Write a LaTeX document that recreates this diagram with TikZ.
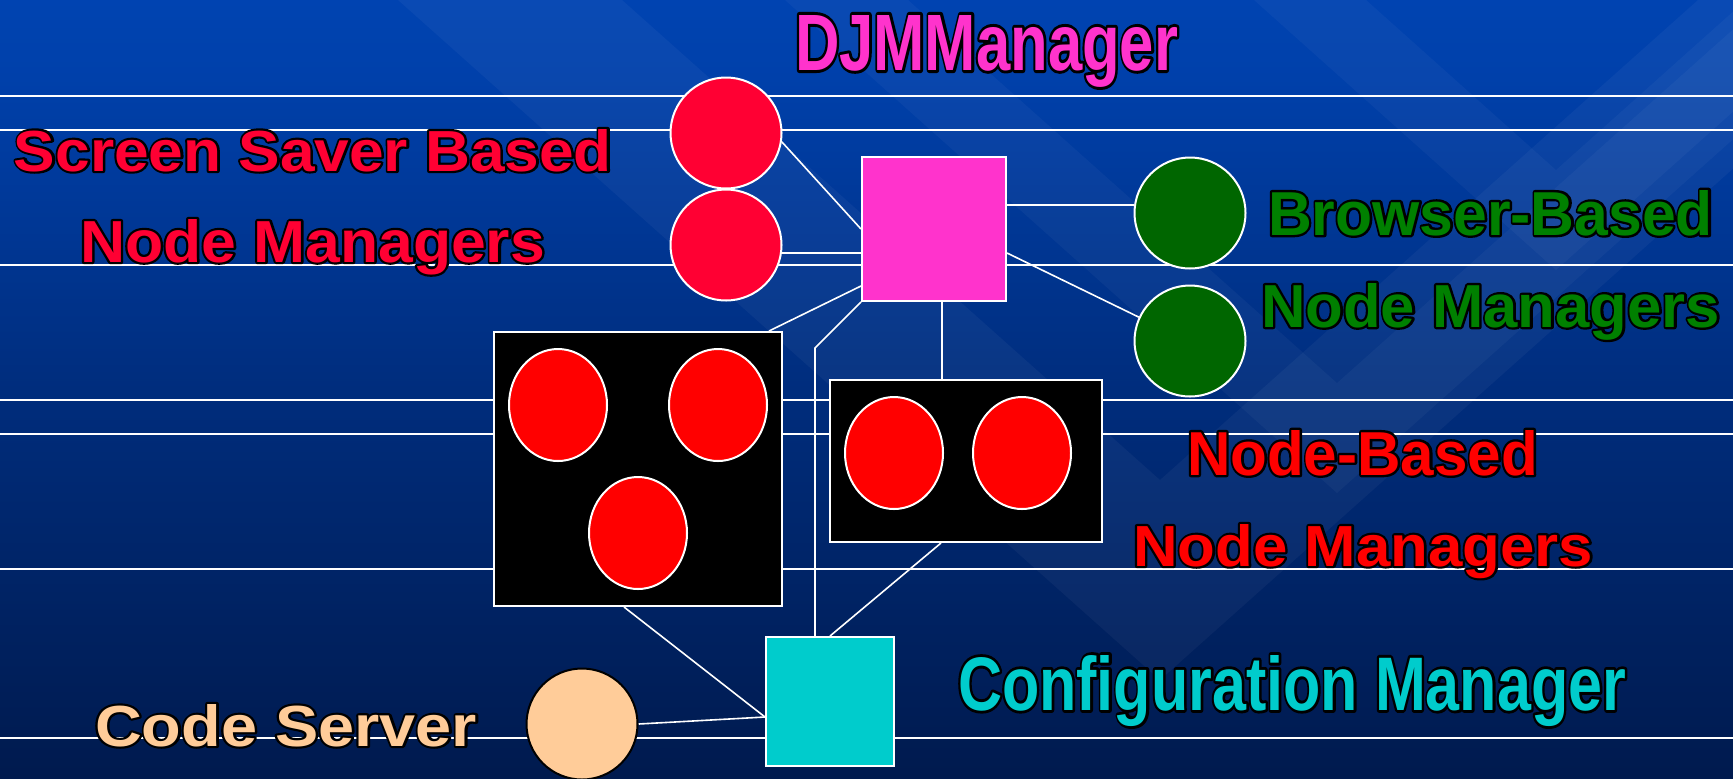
\documentclass[tikz,border=0pt]{standalone}
\usepackage{fontspec}
\setmainfont{Liberation Sans}
\usepackage{graphicx}
\usetikzlibrary{shapes.geometric}
\pgfdeclarelayer{back}
\pgfdeclarelayer{wires}
\pgfsetlayers{back,wires,main}
\definecolor{bgtop}{RGB}{0,84,212}
\definecolor{bgup}{RGB}{0,64,170}
\definecolor{bgmid}{RGB}{0,45,125}
\definecolor{bglow}{RGB}{0,26,78}
\definecolor{bgbot}{RGB}{0,10,36}
\definecolor{djmc}{HTML}{FF33CC}
\definecolor{ssred}{HTML}{FF0033}
\definecolor{nbred}{HTML}{FF0000}
\definecolor{grc}{HTML}{006600}
\definecolor{grt}{HTML}{008000}
\definecolor{cfgc}{HTML}{00CCCC}
\definecolor{peach}{HTML}{FFCC99}
\pgfdeclareverticalshading{bgshade}{100bp}{color(0bp)=(bgbot); color(25bp)=(bglow); color(50bp)=(bgmid); color(70bp)=(bgup); color(100bp)=(bgtop)}
\newlength\pxu
\setlength\pxu{0.5pt}
\newcommand\outl[1]{\special{pdf:literal direct 2 Tr 2.4 w 1 j 0 0 0 RG}#1\special{pdf:literal direct 0 Tr}}
\newcommand\olabel[7]{%
  \node[lbl,text=#6] (#1) at (#2,#3) {\resizebox{#4\pxu}{#5\pxu}{\rlap{\color{black}\outl{#7}}#7}};}
\begin{document}
\begin{tikzpicture}[x=0.5pt,y=-0.5pt,
  circ/.style={circle,draw=white,line width=1pt,minimum size=55.5pt,inner sep=0pt},
  ell/.style={ellipse,draw=white,line width=1pt,minimum width=49pt,minimum height=56pt,inner sep=0pt,fill=nbred},
  sq/.style={rectangle,draw=white,line width=1pt,inner sep=0pt},
  wire/.style={draw=white,line width=0.8pt},
  hline/.style={draw=white,line width=0.7pt},
  lbl/.style={anchor=base west,inner sep=0pt,outer sep=0pt,font=\fontsize{32}{36}\selectfont\bfseries}]
\useasboundingbox (0,0) rectangle (1733,778);
\begin{pgfonlayer}{back}
\begin{scope}
\clip (0,0) rectangle (1733,778);
\shade[shading=bgshade] (0,0) rectangle (1733,778);
\fill[white,opacity=0.04] (398,0) -- (1160,680) -- (1922,0) -- (1698,0) -- (1160,480) -- (622,0) -- cycle;
\fill[white,opacity=0.035] (785,0) -- (1337,493) -- (1889,0) -- (1766,0) -- (1337,383) -- (908,0) -- cycle;
\fill[white,opacity=0.035] (1254,0) -- (1556,270) -- (1858,0) -- (1746,0) -- (1556,170) -- (1366,0) -- cycle;
\end{scope}
\end{pgfonlayer}
% shapes
\node[circ,fill=ssred] (ss1) at (726,133) {};
\node[circ,fill=ssred] (ss2) at (726,245) {};
\node[sq,fill=djmc,minimum size=72pt] (djm) at (934,229) {};
\node[circ,fill=grc] (bb1) at (1190,213) {};
\node[circ,fill=grc] (bb2) at (1190,341) {};
\node[sq,fill=black,minimum width=144pt,minimum height=137pt] (lbox) at (638,469) {};
\node[ell] (e1) at (558,405) {};
\node[ell] (e2) at (718,405) {};
\node[ell] (e3) at (638,533) {};
\node[sq,fill=black,minimum width=136pt,minimum height=81pt] (rbox) at (966,461) {};
\node[ell] (e4) at (894,453) {};
\node[ell] (e5) at (1022,453) {};
\node[sq,fill=cfgc,minimum width=64pt,minimum height=64.5pt] (cfg) at (830,701.5) {};
\node[circ,fill=peach,draw=black] (cs) at (582,724) {};
% lines and connectors
\begin{pgfonlayer}{wires}
\foreach \yy in {96,130,265,400,434,569,738}{\draw[hline] (0,\yy) -- (1733,\yy);}
\draw[wire] (ss1.-9) -- (djm.west);
\draw[wire] (ss2.-8) -- (ss2.-8 -| djm.west);
\draw[wire] (bb1.172) -- (bb1.172 -| djm.east);
\draw[wire] ([yshift=-12pt]djm.east) -- (bb2.155);
\draw[wire] ([yshift=8pt]djm.south west) -- ([xshift=-7pt]lbox.north east);
\coordinate (bend) at (815,348);
\draw[wire] (djm.south west) -- (bend) -- (bend |- cfg.north);
\draw[wire] ([xshift=4pt]djm.south) -- ([xshift=4pt]djm.south |- rbox.north);
\draw[wire] ([xshift=-12.5pt]rbox.south) -- (cfg.north);
\draw[wire] ([xshift=-7pt]lbox.south) -- ([yshift=-7.75pt]cfg.west);
\draw[wire] (cs.east) -- ([yshift=-7.75pt]cfg.west);
\end{pgfonlayer}
% labels
\olabel{tdjm}{795}{70}{383}{55}{djmc}{DJMManager}
\olabel{tss1}{14}{171}{598}{42}{ssred}{Screen Saver Based}
\olabel{tss2}{80}{262}{465}{43}{ssred}{Node Managers}
\olabel{tbb1}{1268}{235}{445}{45}{grt}{Browser-Based}
\olabel{tbb2}{1261}{327}{459}{44}{grt}{Node Managers}
\olabel{tnb1}{1187}{475}{351}{45}{nbred}{Node-Based}
\olabel{tnb2}{1133}{566}{460}{42}{nbred}{Node Managers}
\olabel{tcfg}{958}{710}{668}{55}{cfgc}{Configuration Manager}
\olabel{tcs}{95}{746}{382}{42}{peach}{Code Server}
\end{tikzpicture}
\end{document}
